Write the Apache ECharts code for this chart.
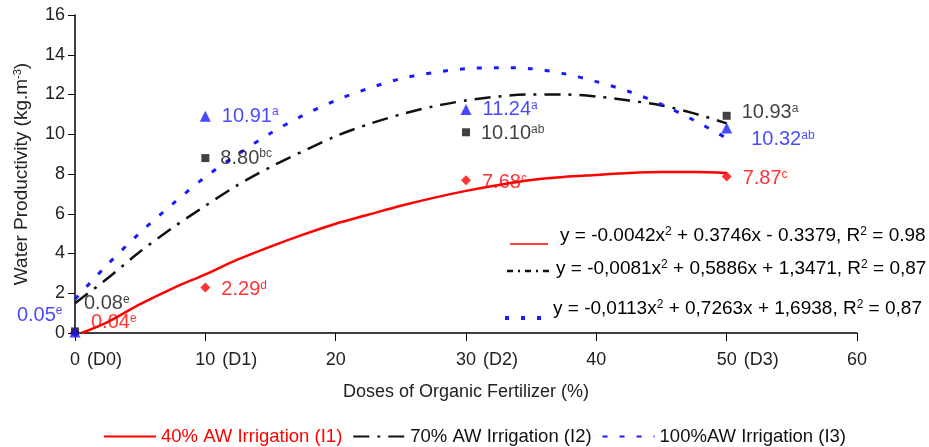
<!DOCTYPE html>
<html>
<head>
<meta charset="utf-8">
<script src="https://cdn.jsdelivr.net/npm/echarts@6/dist/echarts.min.js"></script>
<style>
  html, body { margin: 0; padding: 0; background: #fff; }
  #chart { width: 929px; height: 447px; }
</style>
</head>
<body>
<div id="chart"></div>
<script>
// measured points (water productivity, kg.m-3)
const doses = [0, 10, 30, 50];
const wpI1 = [0.04, 2.29, 7.68, 7.87];
const wpI2 = [0.08, 8.80, 10.10, 10.93];
const wpI3 = [0.05, 10.91, 11.24, 10.32];
const letI1 = ['e', 'd', 'c', 'c'];
const letI2 = ['e', 'bc', 'ab', 'a'];
const letI3 = ['e', 'a', 'a', 'ab'];

// trend lines
const trendX = [0, 2.5, 5, 7.5, 10, 12.5, 15, 17.5, 20, 22.5, 25, 27.5, 30, 32.5, 35, 37.5, 40, 42.5, 45, 47.5, 50];
const trendX1 = [0.5, 2.5, 5, 7.5, 10, 12.5, 15, 17.5, 20, 22.5, 25, 27.5, 30, 32.5, 35, 37.5, 40, 42.5, 45, 47.5, 50];
const trendI1 = [0, 0.55, 1.45, 2.25, 2.95, 3.7, 4.35, 4.95, 5.5, 5.95, 6.4, 6.8, 7.15, 7.45, 7.7, 7.85, 7.95, 8.05, 8.1, 8.1, 8.05];
const trendI2 = [1.5, 2.75, 4.1, 5.3, 6.4, 7.45, 8.35, 9.15, 9.9, 10.5, 11.0, 11.4, 11.7, 11.9, 12.0, 12.0, 11.9, 11.7, 11.45, 11.05, 10.55];
const trendI3 = [1.7, 3.45, 5.05, 6.5, 7.85, 9.0, 10.05, 10.95, 11.7, 12.3, 12.8, 13.1, 13.3, 13.35, 13.3, 13.05, 12.65, 12.15, 11.5, 10.7, 9.8];

const seriesNames = ['40% AW Irrigation (I1)', '70% AW Irrigation (I2)', '100%AW Irrigation (I3)'];
const xTicks = [0, 10, 20, 30, 40, 50, 60];
const doseCodes = ['D0', 'D1', '', 'D2', '', 'D3', ''];
const eqText = [
  ['y = -0.0042x', ' + 0.3746x - 0.3379, R', ' = 0.98'],
  ['y = -0,0081x', ' + 0,5886x + 1,3471, R', ' = 0,87'],
  ['y = -0,0113x', ' + 0,7263x + 1,6938, R', ' = 0,87']
];

const FONT = 'Liberation Sans, Arial, sans-serif';
const RED = '#ff0000', BLACK = '#111111', BLUE = '#1a1aff';

const supRich = (color, size) => ({
  v: { fontSize: size, color: color, fontFamily: FONT },
  s: { fontSize: 12, color: color, fontFamily: FONT, verticalAlign: 'top', padding: [0, 0, 8, 0] }
});

// label placement for each point [position, dx, dy]
const labPosI1 = [['right', 6, -10], ['right', 6, 2], ['right', 6, 2], ['right', 6, 2]];
const labPosI2 = [['right', 0, -28], ['right', 6, 0], ['right', 6, 1], ['right', 6, -3]];
const labPosI3 = [['left', -2, -17], ['right', 6, 0], ['right', 6, 0], ['right', 14, 12]];

function points(ys, lets, pos, color) {
  return doses.map((d, i) => ({
    value: [d, ys[i]],
    label: {
      show: true,
      position: pos[i][0],
      offset: [pos[i][1], pos[i][2]],
      formatter: '{v|' + ys[i].toFixed(2) + '}{s|' + lets[i] + '}',
      rich: supRich(color, 20)
    }
  }));
}

function pairs(xs, ys) { return xs.map((x, i) => [x, ys[i]]); }

const chart = echarts.init(document.getElementById('chart'));

const option = {
  animation: false,
  grid: { left: 75, right: 72, top: 15, bottom: 114, containLabel: false },
  legend: {
    left: 103, top: 427, padding: 0,
    itemWidth: 52, itemHeight: 14, itemGap: 10,
    itemStyle: { opacity: 0 },
    textStyle: { fontSize: 18.5, fontFamily: FONT, color: BLACK },
    data: [
      { name: seriesNames[0], textStyle: { color: RED } },
      { name: seriesNames[1] },
      { name: seriesNames[2] }
    ]
  },
  xAxis: {
    type: 'value', min: 0, max: 60, interval: 10,
    name: 'Doses of Organic Fertilizer (%)',
    nameLocation: 'middle', nameGap: 50,
    nameTextStyle: { fontSize: 18, fontFamily: FONT, color: '#222' },
    axisLine: { lineStyle: { color: '#000', width: 1.5 } },
    axisTick: { show: true, inside: false, length: 8, lineStyle: { color: '#000' } },
    splitLine: { show: false },
    axisLabel: {
      margin: 18, color: '#222', fontSize: 18, fontFamily: FONT,
      formatter: function (v) {
        const i = xTicks.indexOf(v);
        const code = i >= 0 ? doseCodes[i] : '';
        if (!code) return '{n|' + v + '}';
        return '{sp| }{n|' + v + '}{d|(' + code + ')}';
      },
      rich: {
        n: { fontSize: 18, fontFamily: FONT, color: '#222' },
        d: { fontSize: 18, fontFamily: FONT, color: '#222', padding: [0, 0, 0, 7] },
        sp: { fontSize: 18, width: 42 }
      }
    }
  },
  yAxis: {
    type: 'value', min: 0, max: 16, interval: 2,
    name: '{a|Water Productivity (kg.m}{s|-3}{a|)}',
    nameLocation: 'middle', nameGap: 44,
    nameTextStyle: {
      rich: {
        a: { fontSize: 19, fontFamily: FONT, color: '#222' },
        s: { fontSize: 11, fontFamily: FONT, color: '#222', verticalAlign: 'top', padding: [0, 0, 8, 0] }
      }
    },
    axisLine: { show: true, lineStyle: { color: '#000', width: 1.5 } },
    axisTick: { show: true, length: 7, lineStyle: { color: '#000' } },
    splitLine: { show: false },
    axisLabel: { margin: 10, color: '#222', fontSize: 18, fontFamily: FONT }
  },
  series: [
    {
      name: seriesNames[0], type: 'line', smooth: 0.3, symbol: 'none', z: 2,
      lineStyle: { color: RED, width: 2.5 }, itemStyle: { color: RED },
      data: pairs(trendX1, trendI1)
    },
    {
      name: seriesNames[1], type: 'line', smooth: 0.3, symbol: 'none', z: 2,
      lineStyle: { color: BLACK, width: 2.5, type: [16, 8, 3, 8] }, itemStyle: { color: BLACK },
      data: pairs(trendX, trendI2)
    },
    {
      name: seriesNames[2], type: 'line', smooth: 0.3, symbol: 'none', z: 2,
      lineStyle: { color: BLUE, width: 3, type: [5, 12] }, itemStyle: { color: BLUE },
      data: pairs(trendX, trendI3)
    },
    {
      name: 'I1 points', type: 'scatter', symbol: 'diamond', symbolSize: 10, z: 3,
      itemStyle: { color: RED },
      data: points(wpI1, letI1, labPosI1, RED)
    },
    {
      name: 'I2 points', type: 'scatter', symbol: 'rect', symbolSize: 8, z: 4,
      itemStyle: { color: BLACK },
      data: points(wpI2, letI2, labPosI2, BLACK)
    },
    {
      name: 'I3 points', type: 'scatter', symbol: 'triangle', symbolSize: 11, z: 5,
      itemStyle: { color: BLUE },
      data: points(wpI3, letI3, labPosI3, BLUE)
    }
  ],
  graphic: [
    // regression key
    { type: 'line', shape: { x1: 510, y1: 244, x2: 548, y2: 244 }, style: { stroke: RED, lineWidth: 1.5 } },
    { type: 'line', shape: { x1: 507, y1: 271, x2: 549, y2: 271 }, style: { stroke: BLACK, lineWidth: 2.5, lineDash: [6, 5, 2, 5] } },
    { type: 'line', shape: { x1: 505, y1: 318, x2: 541, y2: 318 }, style: { stroke: BLUE, lineWidth: 4, lineDash: [4, 12] } }
  ].concat(eqText.map((eq, i) => ({
    type: 'text',
    left: [560, 556, 553][i],
    top: [226, 259, 299][i],
    style: {
      text: '{v|' + eq[0] + '}{s|2}{v|' + eq[1] + '}{s|2}{v|' + eq[2] + '}',
      rich: supRich([RED, BLACK, BLUE][i], 19)
    }
  })))
};

chart.setOption(option);
</script>
</body>
</html>
